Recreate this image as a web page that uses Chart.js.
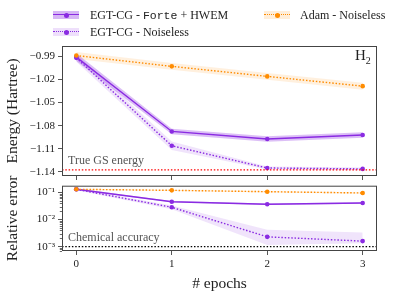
<!DOCTYPE html>
<html>
<head>
<meta charset="utf-8">
<script src="https://cdn.jsdelivr.net/npm/chart.js@4.4.0/dist/chart.umd.min.js"></script>
<style>
  body { margin: 0; width: 396px; height: 293px; position: relative; background: #fff; overflow: hidden; font-family: 'Liberation Serif', serif; color: #222; }
  canvas { position: absolute; left: 0; }
  #topChart { top: 0; }
  #botChart { top: 175px; }
  .txt { position: absolute; white-space: nowrap; z-index: 5; }
  .lg { font-size: 12px; line-height: 14px; }
  .mono { font-family: 'Liberation Mono', monospace; font-size: 11.5px; }
  .sw { position: absolute; width: 26px; height: 8px; z-index: 5; }
  .sw .ln { position: absolute; left: 0; right: 0; top: 3px; height: 0; }
  .sw .dot { position: absolute; left: 10.5px; top: 1.5px; width: 5px; height: 5px; border-radius: 50%; }
  .note { font-size: 12px; color: #555; }
</style>
</head>
<body>
<canvas id="topChart" width="396" height="186"></canvas>
<canvas id="botChart" width="396" height="118"></canvas>

<!-- legend -->
<div class="sw" style="left:53px;top:11px;background:rgba(138,43,226,0.35)"><div class="ln" style="border-top:1.5px solid #8a2be2"></div><div class="dot" style="background:#8a2be2"></div></div>
<div class="txt lg" style="left:90px;top:8px">EGT-CG - <span class="mono">Forte</span> + HWEM</div>
<div class="sw" style="left:53px;top:28px;background:rgba(138,43,226,0.15)"><div class="ln" style="border-top:1.5px dotted #8a2be2"></div><div class="dot" style="background:#8a2be2"></div></div>
<div class="txt lg" style="left:90px;top:25px">EGT-CG - Noiseless</div>
<div class="sw" style="left:264px;top:11px;background:rgba(255,140,0,0.15)"><div class="ln" style="border-top:1.5px dotted #ff8c00"></div><div class="dot" style="background:#ff8c00"></div></div>
<div class="txt lg" style="left:300px;top:8px">Adam - Noiseless</div>

<!-- annotations -->
<div class="txt" style="left:355px;top:47px;font-size:15px">H<sub style="font-size:10px">2</sub></div>
<div class="txt note" style="left:68px;top:153px">True GS energy</div>
<div class="txt note" style="left:68px;top:230px">Chemical accuracy</div>

<script>
// ===== DATA =====
const epochs = [0, 1, 2, 3];

// energy (Hartree)
const energyForte = [-0.991, -1.0874, -1.0973, -1.0921];
const energyForteLo = [-0.996, -1.091, -1.1008, -1.0956];
const energyForteHi = [-0.986, -1.0838, -1.0938, -1.0886];

const energyNoiseless = [-0.992, -1.106, -1.1348, -1.136];
const energyNoiselessLo = [-0.997, -1.1115, -1.1368, -1.1378];
const energyNoiselessHi = [-0.987, -1.1005, -1.1328, -1.1342];

const energyAdam = [-0.989, -1.003, -1.016, -1.0287];
const energyAdamLo = [-0.9935, -1.0075, -1.0205, -1.0332];
const energyAdamHi = [-0.9845, -0.9985, -1.0115, -1.0242];

const trueGsEnergy = -1.1372;
const energyTicks = [-0.99, -1.02, -1.05, -1.08, -1.11, -1.14];

// relative error
const errForte = [0.131, 0.0457, 0.0366, 0.041];
const errForteLo = [0.123, 0.0432, 0.0345, 0.0386];
const errForteHi = [0.139, 0.0484, 0.0388, 0.0435];

const errNoiseless = [0.131, 0.0284, 0.0023, 0.0016];
const errNoiselessLo = [0.122, 0.024, 0.00115, 0.00134];
const errNoiselessHi = [0.14, 0.033, 0.0042, 0.0033];

const errAdam = [0.131, 0.12, 0.107, 0.096];
const errAdamLo = [0.124, 0.113, 0.1, 0.09];
const errAdamHi = [0.138, 0.127, 0.114, 0.102];

const chemicalAccuracy = 1e-3;
const errTicks = [1e-3, 1e-2, 1e-1];
const errTickLabels = ["10\u207B\u00B3", "10\u207B\u00B2", "10\u207B\u00B9"];

// ===== STYLE =====
const PURPLE = "#8a2be2";
const ORANGE = "#ff8c00";
const X_MIN = -0.15, X_MAX = 3.15;

Chart.defaults.font.family = "'Liberation Serif', serif";
Chart.defaults.color = "#222";

function pts(vals) {
  return epochs.map((x, i) => ({ x, y: vals[i] }));
}

function band(lo, hi, color) {
  return [
    { data: pts(lo), borderWidth: 0, pointRadius: 0, fill: false, order: 5 },
    { data: pts(hi), borderWidth: 0, pointRadius: 0, fill: "-1", backgroundColor: color, order: 5 }
  ];
}

function line(vals, color, dash) {
  return {
    data: pts(vals),
    borderColor: color,
    borderWidth: 1.4,
    borderDash: dash,
    pointRadius: 2.3,
    pointBackgroundColor: color,
    pointBorderWidth: 0,
    fill: false,
    order: 1
  };
}

function refLine(y, color) {
  return {
    data: [{ x: X_MIN, y }, { x: X_MAX, y }],
    borderColor: color,
    borderWidth: 1.3,
    borderDash: [1.5, 1.8],
    pointRadius: 0,
    fill: false,
    order: 0
  };
}

// frame around the plot area
const framePlugin = {
  id: "frame",
  afterDraw(chart) {
    const { ctx, chartArea: a } = chart;
    ctx.save();
    ctx.strokeStyle = "#444";
    ctx.lineWidth = 1;
    ctx.strokeRect(a.left + 0.5, a.top + 0.5, a.right - a.left - 1, a.bottom - a.top - 1);
    ctx.restore();
  }
};

// minor ticks for the log axis
const minorTicksPlugin = {
  id: "minorTicks",
  afterDraw(chart) {
    const s = chart.scales.y;
    if (s.type !== "logarithmic") return;
    const ctx = chart.ctx;
    ctx.save();
    ctx.strokeStyle = "#444";
    ctx.lineWidth = 0.8;
    for (let d = -4; d <= 0; d++) {
      for (let k = 2; k <= 9; k++) {
        const v = k * Math.pow(10, d);
        if (v < s.min || v > s.max) continue;
        const y = Math.round(s.getPixelForValue(v)) + 0.5;
        ctx.beginPath();
        ctx.moveTo(s.right - 2.2, y);
        ctx.lineTo(s.right, y);
        ctx.stroke();
      }
    }
    ctx.restore();
  }
};

const gridOpts = { drawOnChartArea: false, drawTicks: true, tickLength: 4, color: "#444", tickWidth: 0.9 };

// ===== TOP: ENERGY =====
new Chart(document.getElementById("topChart"), {
  type: "line",
  data: {
    datasets: [
      ...band(energyForteLo, energyForteHi, "rgba(138,43,226,0.30)"),
      ...band(energyNoiselessLo, energyNoiselessHi, "rgba(138,43,226,0.13)"),
      ...band(energyAdamLo, energyAdamHi, "rgba(255,140,0,0.13)"),
      refLine(trueGsEnergy, "#ff0000"),
      line(energyAdam, ORANGE, [1.5, 1.8]),
      line(energyNoiseless, PURPLE, [1.5, 1.8]),
      line(energyForte, PURPLE, [])
    ]
  },
  options: {
    responsive: false,
    animation: false,
    devicePixelRatio: 1,
    layout: { padding: { left: 0, right: 19, top: 46, bottom: 0 } },
    plugins: { legend: { display: false }, tooltip: { enabled: false } },
    scales: {
      x: {
        type: "linear", min: X_MIN, max: X_MAX,
        afterBuildTicks: s => { s.ticks = epochs.map(v => ({ value: v })); },
        afterFit: s => { s.height = 10; },
        ticks: { display: false },
        grid: gridOpts,
        border: { display: false }
      },
      y: {
        type: "linear", min: -1.1452, max: -0.9766,
        afterBuildTicks: s => { s.ticks = energyTicks.map(v => ({ value: v })); },
        afterFit: s => { s.width = 62; },
        ticks: { font: { size: 11 }, padding: 3, callback: v => "\u2212" + Math.abs(v).toFixed(2) },
        grid: gridOpts,
        border: { display: false },
        title: { display: true, text: "Energy (Hartree)", font: { size: 15.5 }, padding: { top: 4, bottom: 0 } }
      }
    }
  },
  plugins: [framePlugin]
});

// ===== BOTTOM: RELATIVE ERROR =====
new Chart(document.getElementById("botChart"), {
  type: "line",
  data: {
    datasets: [
      ...band(errForteLo, errForteHi, "rgba(138,43,226,0.30)"),
      ...band(errNoiselessLo, errNoiselessHi, "rgba(138,43,226,0.13)"),
      ...band(errAdamLo, errAdamHi, "rgba(255,140,0,0.13)"),
      refLine(chemicalAccuracy, "#000"),
      line(errAdam, ORANGE, [1.5, 1.8]),
      line(errNoiseless, PURPLE, [1.5, 1.8]),
      line(errForte, PURPLE, [])
    ]
  },
  options: {
    responsive: false,
    animation: false,
    devicePixelRatio: 1,
    layout: { padding: { left: 0, right: 19, top: 10.7, bottom: 0 } },
    plugins: { legend: { display: false }, tooltip: { enabled: false } },
    scales: {
      x: {
        type: "linear", min: X_MIN, max: X_MAX,
        afterBuildTicks: s => { s.ticks = epochs.map(v => ({ value: v })); },
        afterFit: s => { s.height = 42; },
        ticks: { font: { size: 11 }, padding: 3, callback: v => String(v) },
        grid: gridOpts,
        border: { display: false },
        title: { display: true, text: "# epochs", font: { size: 15.5 }, padding: { top: 7, bottom: 0 } }
      },
      y: {
        type: "logarithmic", min: 6.9e-4, max: 0.178,
        afterBuildTicks: s => { s.ticks = errTicks.map(v => ({ value: v })); },
        afterFit: s => { s.width = 62; },
        ticks: { font: { size: 11 }, padding: 3, callback: (v, i) => errTickLabels[i] },
        grid: gridOpts,
        border: { display: false },
        title: { display: true, text: "Relative error", font: { size: 15.5 }, padding: { top: 4, bottom: 0 } }
      }
    }
  },
  plugins: [framePlugin, minorTicksPlugin]
});
</script>
</body>
</html>
